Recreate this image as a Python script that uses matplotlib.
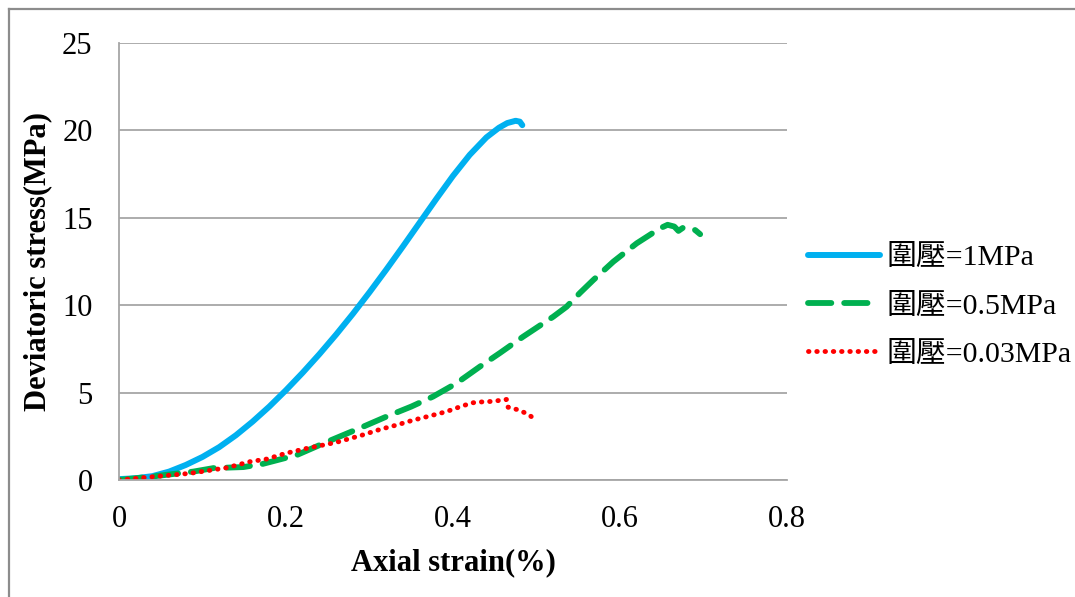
import numpy as np
import matplotlib.pyplot as plt
from matplotlib.lines import Line2D

# 圍壓=1MPa
x_1 = [0, 0.02, 0.04, 0.06, 0.08, 0.10, 0.12, 0.14, 0.16, 0.18, 0.20, 0.22,
       0.24, 0.26, 0.28, 0.30, 0.32, 0.34, 0.36, 0.38, 0.40, 0.42, 0.44,
       0.455, 0.465, 0.475, 0.48, 0.483]
y_1 = [0.05, 0.1, 0.22, 0.48, 0.86, 1.32, 1.88, 2.56, 3.34, 4.2, 5.14, 6.14,
       7.2, 8.32, 9.5, 10.74, 12.03, 13.36, 14.72, 16.08, 17.4, 18.6, 19.6,
       20.15, 20.42, 20.55, 20.5, 20.3]

# 圍壓=0.5MPa
x_05 = [0, 0.04, 0.089, 0.113, 0.149, 0.172, 0.213, 0.25, 0.29, 0.32, 0.35,
        0.376, 0.404, 0.432, 0.456, 0.484, 0.52, 0.536, 0.552, 0.568, 0.592,
        0.62, 0.648, 0.657, 0.665, 0.67, 0.676, 0.682, 0.69, 0.696]
y_05 = [0, 0.2, 0.48, 0.68, 0.74, 0.92, 1.43, 2.2, 3.0, 3.62, 4.2,
        4.77, 5.53, 6.48, 7.26, 8.2, 9.34, 9.91, 10.7, 11.44, 12.49,
        13.54, 14.4, 14.6, 14.5, 14.25, 14.45, 14.35, 14.3, 14.06]

# 圍壓=0.03MPa
x_003 = [0, 0.041, 0.085, 0.129, 0.157, 0.177, 0.2, 0.225, 0.26, 0.29, 0.313,
         0.333, 0.352, 0.372, 0.392, 0.412, 0.424, 0.432, 0.448, 0.464, 0.466,
         0.476, 0.488, 0.494]
y_003 = [0.0, 0.19, 0.38, 0.7, 1.05, 1.2, 1.53, 1.81, 2.15, 2.55, 2.9,
         3.15, 3.42, 3.66, 3.91, 4.25, 4.42, 4.46, 4.5, 4.61, 4.16,
         4.04, 3.81, 3.62]

labels = ['圍壓=1MPa', '圍壓=0.5MPa', '圍壓=0.03MPa']
x_ticks = [0, 0.2, 0.4, 0.6, 0.8]
y_ticks = [0, 5, 10, 15, 20, 25]

plt.rcParams['font.family'] = ['Liberation Serif', 'Noto Sans CJK TC']

fig = plt.figure(figsize=(10.75, 5.97), dpi=100)
ax = fig.add_axes([119 / 1075, 1 - 480 / 597, 668 / 1075, 437 / 597])

ax.plot(x_1, y_1, color='#00B0F0', lw=4.3, solid_capstyle='round',
        solid_joinstyle='round', label=labels[0])
ax.plot(x_05, y_05, color='#00B050', lw=4.2, dash_capstyle='round',
        linestyle=(0, (4, 2.2)), label=labels[1])
ax.plot(x_003, y_003, color='#FF0000', lw=3.5, dash_capstyle='round',
        linestyle=(0, (0.1, 1.6)), label=labels[2])

ax.set_xlim(0, 0.8)
ax.set_ylim(0, 25)
ax.set_xticks(x_ticks, labels=['0', '0.2', '0.4', '0.6', '0.8'])
ax.set_yticks(y_ticks)
ax.tick_params(length=0, labelsize=22)
ax.tick_params(axis='y', pad=19)
ax.tick_params(axis='x', pad=18)

ax.grid(True, axis='y', color='#a6a6a6', lw=1.3)
ax.set_axisbelow(True)
for s in ['top', 'right']:
    ax.spines[s].set_visible(False)
for s in ['left', 'bottom']:
    ax.spines[s].set_color('#a6a6a6')
    ax.spines[s].set_linewidth(1.3)

ax.set_xlabel('Axial strain(%)', fontsize=22, fontweight='bold')
ax.set_ylabel('Deviatoric stress(MPa)', fontsize=22, fontweight='bold')
ax.xaxis.set_label_coords(0.5, -0.156)
ax.yaxis.set_label_coords(-0.1, 0.5)

leg = ax.legend(loc='center left', bbox_to_anchor=(808 / 1075, 1 - 306 / 597),
                bbox_transform=fig.transFigure, frameon=False,
                fontsize=21.5, handlelength=2.4, handletextpad=0.22,
                labelspacing=0.72, borderpad=0, borderaxespad=0)

# outer chart border
fig.add_artist(Line2D([8.5 / 1075, 1], [1 - 9 / 597, 1 - 9 / 597],
                      transform=fig.transFigure, color='#8c8c8c', lw=1.6))
fig.add_artist(Line2D([8.5 / 1075, 8.5 / 1075], [0, 1 - 9 / 597],
                      transform=fig.transFigure, color='#8c8c8c', lw=1.6))

fig.savefig('out.png', dpi=100)
